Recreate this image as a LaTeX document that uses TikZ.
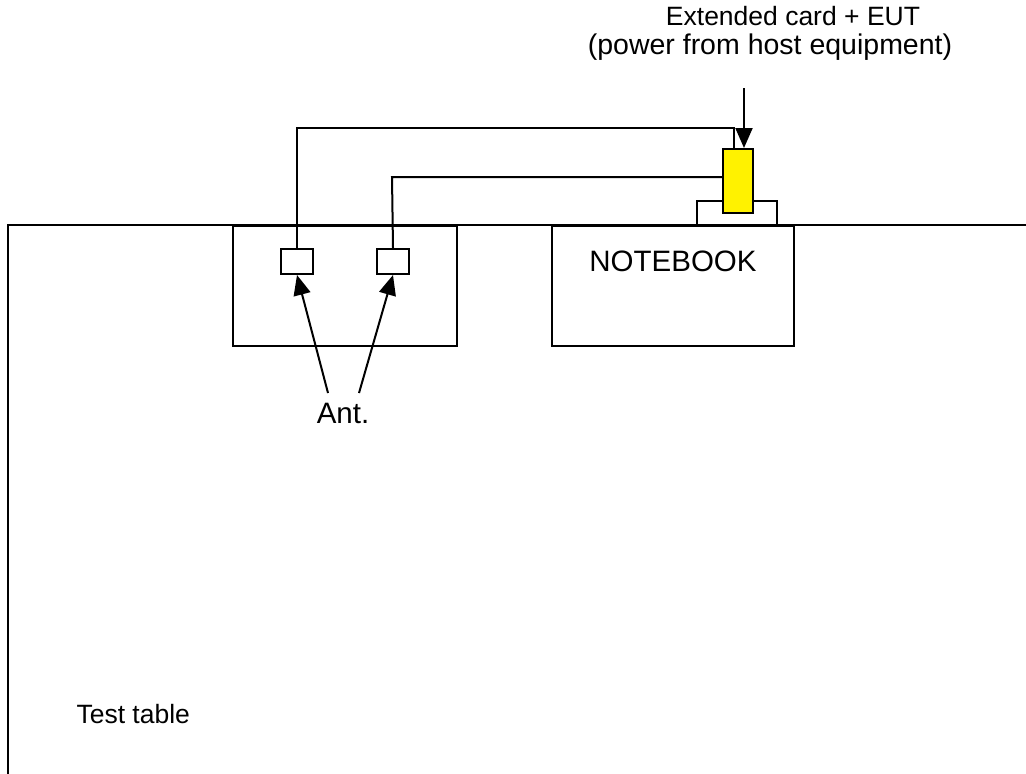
\documentclass[tikz,border=0pt]{standalone}
\usepackage{fontspec}
\setmainfont{Liberation Sans}
\usetikzlibrary{arrows.meta}
\tikzset{
  box/.style={draw, line width=2pt, inner sep=0pt, anchor=north west},
  wire/.style={line width=2pt},
  pointer/.style={line width=2pt, -{Triangle[length=20pt,width=17pt]}},
  big/.style={font=\fontsize{29.5}{35}\selectfont},
  small/.style={font=\fontsize{26.5}{32}\selectfont},
}
\begin{document}
\begin{tikzpicture}[x=1pt,y=-1pt]
  \useasboundingbox (0,0) rectangle (1026,774);
  % test table
  \coordinate (tl) at (8,225);
  \coordinate (tr) at (1026,225);
  \coordinate (bl) at (8,774);
  \draw[wire] (bl) -- (tl) -- (tr);
  \node[small, anchor=west] (table) at (73,714) {Test table};
  % antennas
  \node[box, minimum width=224pt, minimum height=120pt] (antbox) at (232,225) {};
  \node[box, minimum width=32pt, minimum height=25pt] (ant1) at (280,248) {};
  \node[box, minimum width=32pt, minimum height=25pt] (ant2) at (376,248) {};
  \node[big] (antlbl) at (343,413) {Ant.};
  \coordinate (a1) at (328,393);
  \coordinate (a2) at (359,393);
  \draw[pointer] (a1) -- (ant1.south);
  \draw[pointer] (a2) -- (ant2.south);
  % notebook + card
  \node[box, minimum width=242pt, minimum height=120pt] (nb) at (551,225) {};
  \node[big] (nbtext) at (673,261) {NOTEBOOK};
  \node[box, minimum width=80pt, minimum height=25pt] (tray) at (696,200) {};
  \node[box, fill=yellow, minimum width=30pt, minimum height=64pt] (card) at (722,148) {};
  % cables
  \coordinate (cab1) at (734,128);
  \coordinate (cab2) at (392,177);
  \draw[wire] (ant1.north) |- (cab1) -- (cab1 |- card.north);
  \draw[wire] (ant2.north) -- (cab2) -- (cab2 -| card.west);
  % labels
  \node[small] (eut) at (793,16) {Extended card + EUT};
  \node[big, font=\fontsize{28.5}{34}\selectfont] (power) at (770,47) {(power from host equipment)};
  \coordinate (pwr) at (744,88);
  \draw[pointer] (pwr) -- (pwr |- card.north);
\end{tikzpicture}
\end{document}
